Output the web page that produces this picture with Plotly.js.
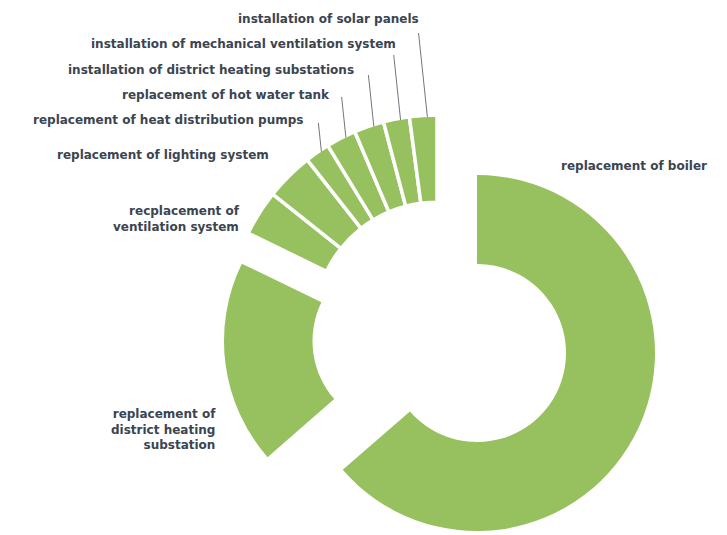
<!DOCTYPE html>
<html>
<head>
<meta charset="utf-8">
<script src="https://cdn.plot.ly/plotly-3.0.1.min.js"></script>
<style>
  html, body { margin: 0; padding: 0; background: #ffffff; }
  #chart { width: 727px; height: 535px; }
</style>
</head>
<body>
<div id="chart"></div>
<script>
// ---------------- data ----------------
const categories = [
  "replacement of boiler",
  "replacement of<br>district heating<br>substation",
  "recplacement of<br>ventilation system",
  "replacement of lighting system",
  "replacement of heat distribution pumps",
  "replacement of hot water tank",
  "installation of district heating substations",
  "installation of mechanical ventilation system",
  "installation of solar panels"
];
const shares = [63.6, 18.6, 3.5, 3.7, 1.9, 2.3, 2.3, 2.0, 2.1];

// ---------------- style / layout ----------------
const W = 727, H = 535;
const GREEN = "#96c15e";
const TEXT_COLOR = "#3b4550";
const FONT = "DejaVu Sans, sans-serif";
// three rings: main ring (boiler), exploded district slice, exploded group of small slices
const groupOf = [0, 1, 2, 2, 2, 2, 2, 2, 2];
// per group: centre (px from top-left), outer radius (px), hole fraction, border width
const groups = [
  { cx: 477, cy: 353, r: 178, hole: 0.50, border: 0 },
  { cx: 401, cy: 341, r: 177, hole: 0.50, border: 0 },
  { cx: 437, cy: 325, r: 210, hole: 0.585, border: 3.5 }
];
// label placement (px): anchor x, centre y, anchor side
const labelPos = [
  { x: 559, y: 166, side: "left" },
  { x: 218, y: 429, side: "right" },
  { x: 242, y: 219, side: "right" },
  { x: 271, y: 155, side: "right" },
  { x: 305, y: 120, side: "right" },
  { x: 332, y: 95,  side: "right" },
  { x: 356, y: 70,  side: "right" },
  { x: 398, y: 44,  side: "right" },
  { x: 421, y: 19,  side: "right" }
];
// leader lines: end y (px) per slice, null = none
const leaderEndY = [null, null, null, null, 123, 97, 75, 55, 33];
const LEADER_TILT = -6;      // deg from vertical
const LEADER_AT = 0.65;      // position along the slice arc (0 = start, 1 = end, clockwise)

// ---------------- build ----------------
const total = shares.reduce((a, b) => a + b, 0);
const startAng = [], endAng = [];
let acc = 0;
shares.forEach(v => {
  startAng.push(acc / total * 360);
  acc += v;
  endAng.push(acc / total * 360);
});
const rad = d => d * Math.PI / 180;

const traces = groups.map((g, gi) => ({
  type: "pie",
  values: shares,
  labels: categories.map((l, k) => l + "#" + k),
  sort: false,
  direction: "clockwise",
  rotation: 0,
  hole: g.hole,
  textinfo: "none",
  hoverinfo: "skip",
  showlegend: false,
  marker: {
    colors: shares.map((_, k) => groupOf[k] === gi ? GREEN : "rgba(0,0,0,0)"),
    line: { color: "#ffffff", width: shares.map((_, k) => groupOf[k] === gi ? g.border : 0) }
  },
  domain: {
    x: [(g.cx - g.r) / W, (g.cx + g.r) / W],
    y: [Math.max(0, 1 - (g.cy + g.r) / H), Math.min(1, 1 - (g.cy - g.r) / H)]
  }
}));

const annotations = categories.map((txt, i) => ({
  text: txt,
  xref: "paper", yref: "paper",
  x: labelPos[i].x / W,
  y: 1 - labelPos[i].y / H,
  xanchor: labelPos[i].side,
  yanchor: "middle",
  align: labelPos[i].side === "left" ? "left" : "right",
  showarrow: false,
  font: { family: FONT, size: 12, color: TEXT_COLOR, weight: 700 }
}));

const shapes = [];
leaderEndY.forEach((ey, i) => {
  if (ey === null) return;
  const g = groups[groupOf[i]];
  const a = startAng[i] + LEADER_AT * (endAng[i] - startAng[i]);
  const ro = g.r - g.border / 2;
  const sx = g.cx + ro * Math.sin(rad(a));
  const sy = g.cy - ro * Math.cos(rad(a));
  const ex = sx + (sy - ey) * Math.tan(rad(LEADER_TILT));
  shapes.push({
    type: "line", xref: "paper", yref: "paper",
    x0: sx / W, y0: 1 - sy / H, x1: ex / W, y1: 1 - ey / H,
    line: { color: "#6f7780", width: 1 }
  });
});

Plotly.newPlot("chart", traces, {
  width: W, height: H,
  margin: { l: 0, r: 0, t: 0, b: 0 },
  paper_bgcolor: "#ffffff",
  plot_bgcolor: "#ffffff",
  showlegend: false,
  annotations: annotations,
  shapes: shapes
}, { displayModeBar: false, staticPlot: true });
</script>
</body>
</html>
